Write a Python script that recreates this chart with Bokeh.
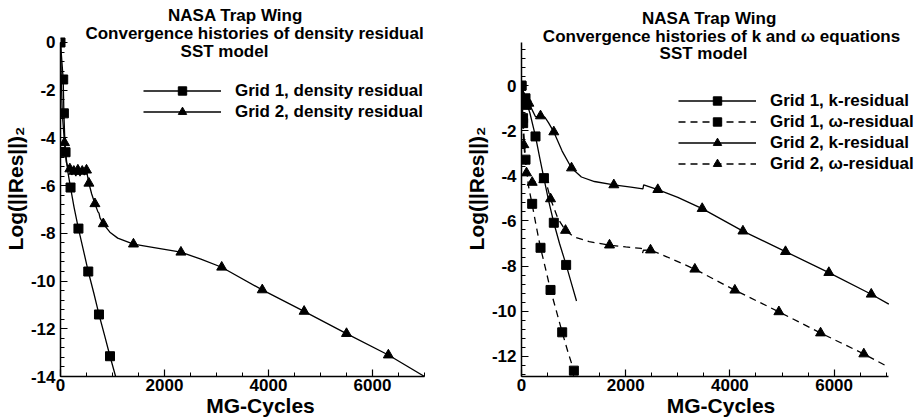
import math
from bokeh.plotting import figure
from bokeh.layouts import row
from bokeh.models import Label, Legend, LegendItem, SingleIntervalTicker, PrintfTickFormatter
from bokeh.embed import file_html
from bokeh.resources import INLINE

# ---------------- Left panel: density residual ----------------
L_g1_line_x = [0, 20, 40, 52, 60, 65, 80, 97, 140, 193, 260, 345, 440, 534, 640, 740, 850, 952, 1060]
L_g1_line_y = [0, -0.6, -1.2, -1.55, -2.4, -2.97, -3.9, -4.6, -5.4, -6.08, -6.9, -7.8, -8.7, -9.6, -10.5, -11.4, -12.3, -13.15, -14.0]
L_g1_mark_x = [0, 52, 65, 97, 193, 345, 534, 740, 952]
L_g1_mark_y = [0, -1.55, -2.97, -4.6, -6.08, -7.8, -9.6, -11.4, -13.15]

L_g2_line_x = [0, 15, 35, 77, 110, 150, 180, 215, 257, 295, 334, 375, 418, 460, 500, 520, 546, 600, 662, 720, 740,
               760, 823, 950, 1100, 1403, 1800, 2316, 2700, 3100, 3880, 4685, 5500, 6305, 7000]
L_g2_line_y = [0, -1.5, -3.0, -4.2, -5.0, -5.3, -5.3, -5.55, -5.4, -5.6, -5.35, -5.6, -5.4, -5.55, -5.35, -5.6, -5.9, -6.35,
               -6.76, -7.1, -7.15, -7.35, -7.6, -7.95, -8.2, -8.45, -8.6, -8.79, -9.08, -9.42, -10.37, -11.27, -12.2, -13.1, -14.0]
L_g2_mark_x = [77, 180, 257, 334, 418, 500, 546, 662, 823, 1403, 2316, 3100, 3880, 4685, 5500, 6305]
L_g2_mark_y = [-4.2, -5.3, -5.4, -5.35, -5.4, -5.35, -5.9, -6.76, -7.6, -8.45, -8.79, -9.42, -10.37, -11.27, -12.2, -13.1]

# ---------------- Right panel: k and omega residuals ----------------
R_g1k_line_x = [0, 77, 110, 160, 269, 350, 430, 520, 620, 730, 857, 950, 1056]
R_g1k_line_y = [0, -0.56, -0.85, -1.2, -2.25, -3.2, -4.1, -5.1, -6.08, -7.0, -7.95, -8.7, -9.55]
R_g1k_mark_x = [0, 77, 96, 269, 430, 620, 857]
R_g1k_mark_y = [0, -0.56, -0.85, -2.25, -4.1, -6.08, -7.95]

R_g1w_line_x = [0, 15, 30, 50, 77, 130, 205, 280, 365, 460, 557, 670, 781, 890, 1005, 1040]
R_g1w_line_y = [0, -0.8, -1.5, -2.3, -3.28, -4.4, -5.27, -6.2, -7.19, -8.1, -9.06, -10.0, -10.94, -11.8, -12.64, -12.9]
R_g1w_mark_x = [0, 30, 32, 77, 205, 365, 557, 781, 1005]
R_g1w_mark_y = [0, -1.44, -1.66, -3.28, -5.24, -7.19, -9.06, -10.94, -12.64]

R_g2k_line_x = [0, 20, 60, 141, 200, 269, 365, 450, 520, 620, 780, 960, 1150, 1400, 1772, 2100, 2330, 2345, 2616,
                3000, 3468, 4250, 5067, 5899, 6713, 7050]
R_g2k_line_y = [0, -0.45, -0.6, -0.78, -1.05, -1.38, -1.34, -1.4, -1.65, -2.05, -2.9, -3.65, -4.05, -4.25, -4.4, -4.5,
                -4.58, -4.4, -4.61, -4.95, -5.45, -6.45, -7.36, -8.29, -9.25, -9.69]
R_g2k_mark_x = [20, 141, 365, 620, 960, 1772, 2616, 3468, 4250, 5067, 5899, 6713]
R_g2k_mark_y = [-0.45, -0.78, -1.34, -2.05, -3.65, -4.4, -4.61, -5.45, -6.45, -7.36, -8.29, -9.25]

R_g2w_line_x = [0, 20, 45, 96, 150, 205, 300, 428, 480, 557, 700, 845, 1000, 1300, 1689, 2000, 2300, 2320, 2340,
                2476, 2800, 3327, 4095, 4940, 5740, 6570, 7050]
R_g2w_line_y = [0, -1.5, -2.62, -3.87, -4.25, -4.29, -4.25, -4.17, -4.35, -5.02, -5.9, -6.42, -6.7, -6.92, -7.07,
                -7.15, -7.22, -7.45, -7.3, -7.29, -7.6, -8.14, -9.07, -10.03, -10.97, -11.9, -12.49]
R_g2w_mark_x = [45, 96, 205, 428, 557, 845, 1689, 2476, 3327, 4095, 4940, 5740, 6570]
R_g2w_mark_y = [-2.62, -3.87, -4.29, -4.17, -5.02, -6.42, -7.07, -7.29, -8.14, -9.07, -10.03, -10.97, -11.9]

LEFT_TITLE = ["NASA Trap Wing", "Convergence histories of density residual", "SST model"]
RIGHT_TITLE = ["NASA Trap Wing", "Convergence histories of k and \u03c9 equations", "SST model"]
X_LABEL = "MG-Cycles"
Y_LABEL = "Log(||Res||)\u2082"

FONT = "Liberation Sans"
DASH = "7 5"


def make_fig(x_end, y_start, y_end, x_bounds, y_bounds, bl, bb):
    # frame reaches the top and right edges of the figure so that titles and legend are not clipped;
    # axis bounds keep the axis lines at the reference extent
    p = figure(width=460, height=420, x_range=(0, x_end), y_range=(y_start, y_end),
               output_backend="svg", toolbar_location=None,
               min_border_left=bl, min_border_right=0, min_border_top=0, min_border_bottom=bb)
    p.outline_line_color = None
    p.xgrid.visible = False
    p.ygrid.visible = False
    p.xaxis.ticker = SingleIntervalTicker(interval=2000, num_minor_ticks=4)
    p.yaxis.ticker = SingleIntervalTicker(interval=2, num_minor_ticks=5)
    p.xaxis.formatter = PrintfTickFormatter(format="%d")
    p.yaxis.formatter = PrintfTickFormatter(format="%d")
    p.xaxis.bounds = x_bounds
    p.yaxis.bounds = y_bounds
    for ax in (p.xaxis, p.yaxis):
        ax.axis_line_color = "black"
        ax.axis_line_width = 1.5
        ax.major_tick_in = 7
        ax.major_tick_out = 0
        ax.minor_tick_in = 4
        ax.minor_tick_out = 0
        ax.major_tick_line_color = "black"
        ax.minor_tick_line_color = "black"
        ax.major_tick_line_width = 1.2
        ax.minor_tick_line_width = 1
        ax.major_label_text_font = FONT
        ax.major_label_text_font_style = "bold"
        ax.major_label_text_font_size = "17px"
        ax.major_label_text_color = "black"
        ax.axis_label_text_font = FONT
        ax.axis_label_text_font_style = "bold"
        ax.axis_label_text_font_size = "21px"
        ax.axis_label_text_color = "black"
    p.xaxis.major_label_standoff = 2
    p.yaxis.major_label_standoff = 5
    p.xaxis.axis_label = X_LABEL
    p.yaxis.axis_label = Y_LABEL
    p.xaxis.axis_label_standoff = 0
    p.yaxis.axis_label_standoff = 1
    return p


def add_text(p, x, y, text, size):
    p.add_layout(Label(x=x, y=y, x_units="screen", y_units="screen", text=text,
                       text_font=FONT, text_font_style="bold", text_font_size=size,
                       text_color="black", text_align="center", text_baseline="middle"))


def style_legend(lg):
    lg.border_line_color = None
    lg.background_fill_alpha = 0
    lg.padding = 0
    lg.margin = 0
    lg.spacing = 0
    lg.glyph_width = 78
    lg.glyph_height = 21
    lg.label_height = 21
    lg.label_standoff = 14
    lg.label_text_font = FONT
    lg.label_text_font_style = "bold"
    lg.label_text_font_size = "17px"
    lg.label_text_color = "black"


# ---- left figure ----
p1 = make_fig(7692, -14, 1.76, (0, 7000), (-14, 0), 60, 44)
l1 = p1.line(L_g1_line_x, L_g1_line_y, line_color="black", line_width=1.3)
m1 = p1.scatter(L_g1_mark_x, L_g1_mark_y, marker="square", size=9, color="black")
l2 = p1.line(L_g2_line_x, L_g2_line_y, line_color="black", line_width=1.3)
m2 = p1.scatter(L_g2_mark_x, L_g2_mark_y, marker="triangle", size=10, color="black")
lg1 = Legend(items=[LegendItem(label="Grid 1, density residual", renderers=[l1, m1]),
                    LegendItem(label="Grid 2, density residual", renderers=[l2, m2])],
             location=(83, 254))
style_legend(lg1)
p1.add_layout(lg1)
add_text(p1, 175, 361, LEFT_TITLE[0], "17px")
add_text(p1, 194, 343, LEFT_TITLE[1], "17px")
add_text(p1, 164, 325, LEFT_TITLE[2], "17px")

# ---- right figure ----
p2 = make_fig(7658, -12.9, 3.78, (0, 7050), (-12.9, 1.9), 61, 42)
r1 = p2.line(R_g1k_line_x, R_g1k_line_y, line_color="black", line_width=1.3)
s1 = p2.scatter(R_g1k_mark_x, R_g1k_mark_y, marker="square", size=9, color="black")
r2 = p2.line(R_g1w_line_x, R_g1w_line_y, line_color="black", line_width=1.3, line_dash=DASH)
s2 = p2.scatter(R_g1w_mark_x, R_g1w_mark_y, marker="square", size=9, color="black")
r3 = p2.line(R_g2k_line_x, R_g2k_line_y, line_color="black", line_width=1.3)
s3 = p2.scatter(R_g2k_mark_x, R_g2k_mark_y, marker="triangle", size=10, color="black")
r4 = p2.line(R_g2w_line_x, R_g2w_line_y, line_color="black", line_width=1.3, line_dash=DASH)
s4 = p2.scatter(R_g2w_mark_x, R_g2w_mark_y, marker="triangle", size=10, color="black")
lg2 = Legend(items=[LegendItem(label="Grid 1, k-residual", renderers=[r1, s1]),
                    LegendItem(label="Grid 1, \u03c9-residual", renderers=[r2, s2]),
                    LegendItem(label="Grid 2, k-residual", renderers=[r3, s3]),
                    LegendItem(label="Grid 2, \u03c9-residual", renderers=[r4, s4])],
             location=(157, 202))
style_legend(lg2)
p2.add_layout(lg2)
add_text(p2, 188, 358, RIGHT_TITLE[0], "17px")
add_text(p2, 200, 340, RIGHT_TITLE[1], "17px")
add_text(p2, 182, 323, RIGHT_TITLE[2], "17px")

layout = row(p1, p2)
open("out.html", "w").write(file_html(layout, INLINE))
